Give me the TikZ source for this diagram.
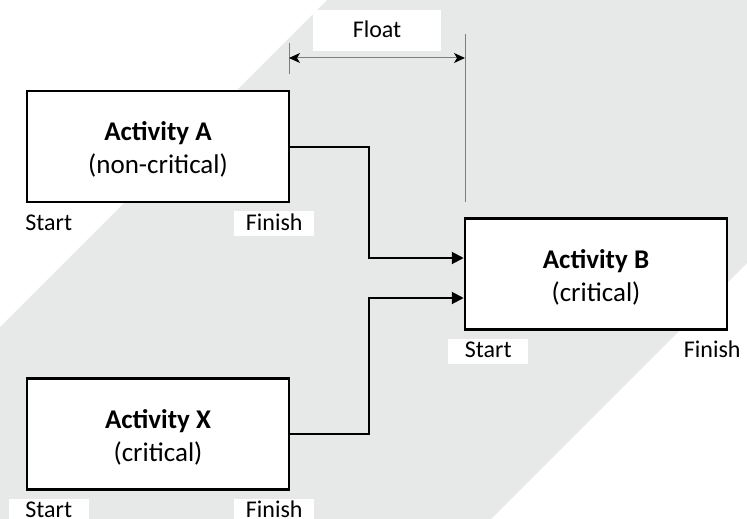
\documentclass[tikz,border=0pt]{standalone}
\usepackage{fontspec}
\setmainfont{Carlito}
\usetikzlibrary{arrows.meta}
\definecolor{bandgray}{RGB}{231,232,232}
\definecolor{dimgray}{RGB}{125,125,125}
\begin{document}
\begin{tikzpicture}[x=1pt,y=-1pt,
  actbox/.style={draw=black,line width=2.5pt,fill=white,minimum width=262pt,minimum height=111pt,inner sep=0pt,align=center,font=\fontsize{27}{33}\selectfont},
  tag/.style={fill=white,inner sep=0pt,minimum width=80pt,text height=19pt,text depth=6pt,anchor=base,font=\fontsize{24}{29}\selectfont},
  conn/.style={line width=2pt,-{Triangle[length=12pt,width=12pt]}},
  dimline/.style={draw=dimgray,line width=1pt}]
\useasboundingbox (0,0) rectangle (747,519);
\fill[bandgray] (327,0) -- (747,0) -- (747,263) -- (491,519) -- (0,519) -- (0,327) -- cycle;
% activity boxes
\node[actbox] (A) at (158,146.5) {\rule{0pt}{25pt}\textbf{Activity A}\\(non-critical)};
\node[actbox] (B) at (596,274) {\rule{0pt}{25pt}\textbf{Activity B}\\(critical)};
\node[actbox] (X) at (158,434) {\rule{0pt}{25pt}\textbf{Activity X}\\(critical)};
% start / finish tags
\node[tag] (As) at ([xshift=23pt,yshift=-27pt]A.south west) {Start};
\node[tag] (Af) at ([xshift=-16pt,yshift=-27pt]A.south east) {Finish};
\node[tag] (Bs) at ([xshift=24.5pt,yshift=-27pt]B.south west) {Start};
\node[tag] (Bf) at ([xshift=-16pt,yshift=-27pt]B.south east) {Finish};
\node[tag] (Xs) at ([xshift=23pt,yshift=-27pt]X.south west) {Start};
\node[tag] (Xf) at ([xshift=-16pt,yshift=-27pt]X.south east) {Finish};
% connectors
\coordinate (ka) at (369,258);
\coordinate (kx) at (369,298);
\draw[conn] (A.east) -| (ka) -- (ka -| B.west);
\draw[conn] (X.east) -| (kx) -- (kx -| B.west);
% float dimension
\coordinate (fl1) at (289,43);
\coordinate (fl2) at (289,74);
\coordinate (fr1) at (465,34);
\coordinate (fr2) at (465,202);
\coordinate (dl) at (289,58);
\coordinate (dr) at (465,58);
\draw[dimline] (fl1) -- (fl2);
\draw[dimline] (fr1) -- (fr2);
\draw[dimline,{Stealth[length=11pt,width=10pt,inset=3pt,color=black]}-{Stealth[length=11pt,width=10pt,inset=3pt,color=black]}] (dl) -- (dr);
\node[fill=white,inner sep=0pt,minimum width=128pt,text height=28pt,text depth=13pt,anchor=base,font=\fontsize{24}{29}\selectfont] (fl) at (377,38) {Float};
\end{tikzpicture}
\end{document}
